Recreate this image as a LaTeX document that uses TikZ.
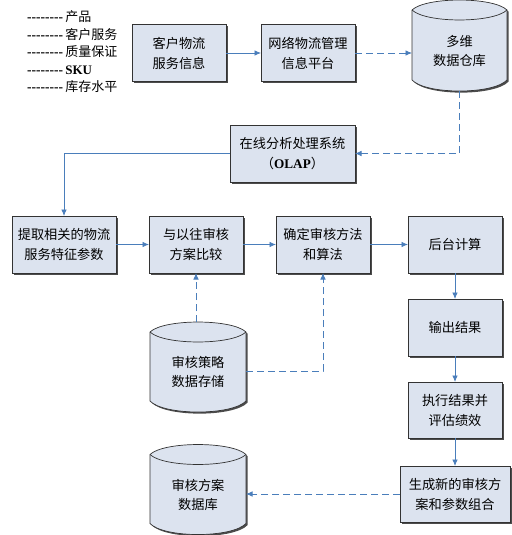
\documentclass[tikz,border=0pt]{standalone}
\usepackage{fontspec}
\setmainfont{Liberation Serif}
\newfontfamily\cjk{Noto Sans CJK SC}
\usetikzlibrary{calc,shadows,arrows.meta}
\definecolor{boxfill}{HTML}{DCE3EF}
\definecolor{linkblue}{HTML}{4A7EBB}
\definecolor{edgegray}{HTML}{333333}
\tikzset{
 box/.style={draw=edgegray, line width=0.7pt, fill=boxfill,
   general shadow={fill=black!70, shadow xshift=1.6pt, shadow yshift=-1.6pt},
   minimum width=94pt, minimum height=57pt, inner sep=0pt, outer sep=0pt,
   align=center, font=\cjk\fontsize{13.2}{20}\selectfont},
 cylarea/.style={minimum width=96pt, minimum height=90pt, inner sep=0pt, outer sep=0pt},
 cyltext/.style={align=center, inner sep=0pt, font=\cjk\fontsize{13.2}{19}\selectfont},
 link/.style={draw=linkblue, line width=0.8pt, -{Latex[length=6.5pt,width=5.5pt]}},
 dlink/.style={link, dash pattern=on 7pt off 4pt},
 legend/.style={anchor=west, inner sep=0pt, font=\cjk\fontsize{13}{14}\selectfont}
}
\newcommand\cylpath[1]{($(#1.north west)+(0,10)$) .. controls ($(#1.north west)+(14,-3.3)$) and ($(#1.north east)+(-14,-3.3)$) .. ($(#1.north east)+(0,10)$) -- ($(#1.south east)+(0,-11)$) .. controls ($(#1.south east)+(-14,3.7)$) and ($(#1.south west)+(14,3.7)$) .. ($(#1.south west)+(0,-11)$) -- cycle}
\newcommand\drawcyl[1]{%
 \fill[black!70, transform canvas={xshift=1.6pt,yshift=-1.6pt}] \cylpath{#1};
 \draw[draw=edgegray, line width=0.7pt, fill=boxfill] \cylpath{#1};
 \draw[edgegray, line width=0.7pt] ($(#1.north west)+(0,10)$) .. controls ($(#1.north west)+(14,23.3)$) and ($(#1.north east)+(-14,23.3)$) .. ($(#1.north east)+(0,10)$);}
\newcommand\dashrun{{\rmfamily\bfseries\fontsize{13.5}{14}\selectfont -{}-{}-{}-{}-{}-{}-{}-}\,}
\begin{document}
\begin{tikzpicture}[x=1pt,y=-1pt]
\fill[white] (0,0) rectangle (511,535);
\useasboundingbox (0,0) rectangle (511,535);

% legend
\node[legend] (lg1) at (27,17) {\dashrun 产品};
\node[legend] (lg2) at (27,35) {\dashrun 客户服务};
\node[legend] (lg3) at (27,52) {\dashrun 质量保证};
\node[legend] (lg4) at (27,70) {\dashrun{\rmfamily\bfseries SKU}};
\node[legend] (lg5) at (27,87) {\dashrun 库存水平};

% top row
\node[box] (info) at (179,53) {客户物流\\服务信息};
\node[box] (plat) at (308,53) {网络物流管理\\信息平台};
\node[cylarea, minimum width=95pt, minimum height=91pt] (dw) at (459.5,45.5) {};
\drawcyl{dw}
\node[cyltext] (dwt) at (459.5,51) {多维\\数据仓库};

\node[box, minimum width=125pt] (olap) at (292.5,153.5) {在线分析处理系统\\（{\rmfamily\bfseries OLAP}）};

% middle row
\node[box, minimum width=104pt] (extract) at (64,244.5) {提取相关的物流\\服务特征参数};
\node[box] (compare) at (196,244.5) {与以往审核\\方案比较};
\node[box] (method) at (323,244.5) {确定审核方法\\和算法};
\node[box] (calc) at (455,244.5) {后台计算};

% right column
\node[box] (out) at (455,327.5) {输出结果};
\node[box, minimum height=56pt] (exec) at (455,410) {执行结果并\\评估绩效};
\node[box, minimum width=110pt, minimum height=56pt] (gen) at (455,494) {生成新的审核方\\案和参数组合};

% cylinders
\node[cylarea] (store) at (198,367) {};
\drawcyl{store}
\node[cyltext] (storet) at (198,372) {审核策略\\数据存储};
\node[cylarea] (plan) at (198,489.5) {};
\drawcyl{plan}
\node[cyltext] (plant) at (198,495) {审核方案\\数据库};

% connectors
\draw[link] (info) -- (plat);
\draw[dlink] (plat.east) -- (plat.east -| dw.west);
\draw[dlink] (dw.south) |- (olap.east);
\draw[link] (olap.west) -| (extract.north);
\draw[link] (extract) -- (compare);
\draw[link] (compare) -- (method);
\draw[link] (method) -- (calc);
\draw[link] (calc) -- (out);
\draw[link] (out) -- (exec);
\draw[link] (exec) -- (gen);
\draw[dlink] (compare.south |- store.north) -- (compare.south);
\draw[dlink] ($(store.east)+(0,4)$) -| (method.south);
\draw[dlink] (gen.west) -- (gen.west -| plan.east);
\end{tikzpicture}
\end{document}
